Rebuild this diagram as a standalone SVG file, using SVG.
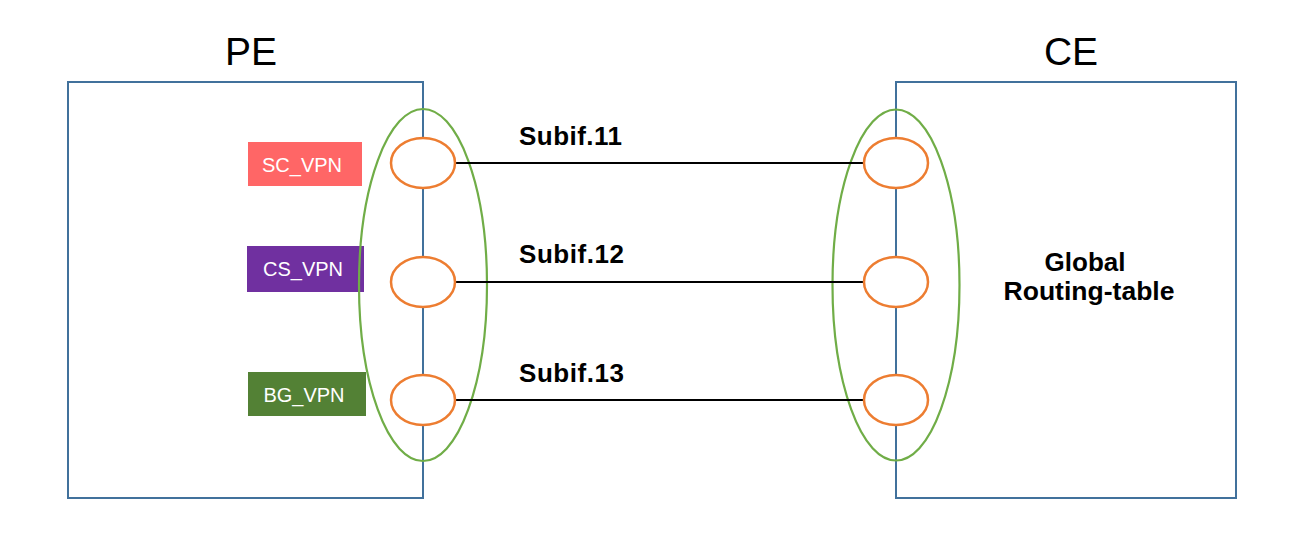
<svg xmlns="http://www.w3.org/2000/svg" width="1290" height="544" viewBox="0 0 1290 544">
<style>
.box{fill:none;stroke:#41719C;stroke-width:2}
.grp{fill:none;stroke:#70AD47;stroke-width:2.2}
.port{fill:#fff;stroke:#ED7D31;stroke-width:2.5}
.link{stroke:#000;stroke-width:2}
.title{font-family:"Liberation Sans",Arial,sans-serif;font-size:39px;fill:#000;text-anchor:middle}
.vpn{font-family:"Liberation Sans",Arial,sans-serif;font-size:20px;fill:#fff;text-anchor:middle}
.lbl{font-family:"Liberation Sans",Arial,sans-serif;font-size:26px;font-weight:bold;fill:#000}
</style>
<rect width="1290" height="544" fill="#fff"/>
<g id="PE">
<rect class="box" x="68" y="82" width="355" height="416"/>
<text class="title" x="251" y="65">PE</text>
</g>
<g id="CE">
<rect class="box" x="896" y="82" width="340" height="416"/>
<text class="title" x="1071" y="65">CE</text>
<text class="lbl" x="1085" y="271" text-anchor="middle">Global</text>
<text class="lbl" x="1089" y="300" text-anchor="middle" textLength="171" lengthAdjust="spacingAndGlyphs">Routing-table</text>
</g>
<g id="SC_VPN">
<rect x="248" y="142" width="114" height="44" fill="#FF6666"/>
<text class="vpn" x="302" y="172">SC_VPN</text>
</g>
<g id="CS_VPN">
<rect x="247" y="246" width="117" height="46" fill="#7030A0"/>
<text class="vpn" x="303" y="276">CS_VPN</text>
</g>
<g id="BG_VPN">
<rect x="248" y="372" width="118" height="44" fill="#538135"/>
<text class="vpn" x="304" y="402">BG_VPN</text>
</g>
<g id="PE_group">
<ellipse class="grp" cx="423" cy="285" rx="64" ry="176"/>
</g>
<g id="CE_group">
<ellipse class="grp" cx="896" cy="285" rx="63.5" ry="175.5"/>
</g>
<g id="connectors">
<line class="link" x1="455" y1="163" x2="864" y2="163"/>
<line class="link" x1="455" y1="282" x2="864" y2="282"/>
<line class="link" x1="455" y1="400" x2="864" y2="400"/>
<text class="lbl" x="519" y="145" textLength="103" lengthAdjust="spacing">Subif.11</text>
<text class="lbl" x="519" y="263" textLength="105" lengthAdjust="spacing">Subif.12</text>
<text class="lbl" x="519" y="382" textLength="105" lengthAdjust="spacing">Subif.13</text>
</g>
<g id="PE_port1"><ellipse class="port" cx="423" cy="163" rx="32" ry="25"/></g>
<g id="PE_port2"><ellipse class="port" cx="423" cy="282" rx="32" ry="25"/></g>
<g id="PE_port3"><ellipse class="port" cx="423" cy="400" rx="32" ry="25"/></g>
<g id="CE_port1"><ellipse class="port" cx="896" cy="163" rx="32" ry="25"/></g>
<g id="CE_port2"><ellipse class="port" cx="896" cy="282" rx="32" ry="25"/></g>
<g id="CE_port3"><ellipse class="port" cx="896" cy="400" rx="32" ry="25"/></g>
</svg>
